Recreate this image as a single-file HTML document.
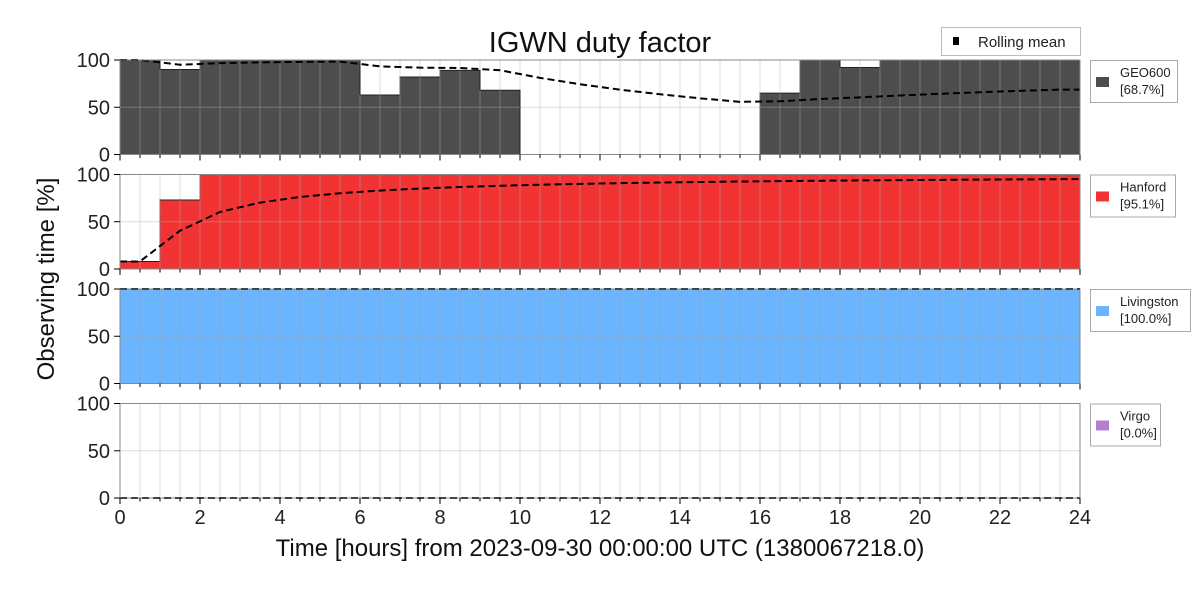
<!DOCTYPE html>
<html><head><meta charset="utf-8"><style>
body{margin:0;background:#fff}
svg{display:block;font-family:"Liberation Sans",sans-serif}
</style></head><body>
<svg id="s" width="1200" height="600" xmlns="http://www.w3.org/2000/svg"></svg>
<script>
const s=document.getElementById('s');let h='';
const X=t=>120+t*40;
const panels=[
 {top:60,col:'#4d4d4d',grid:'#8a8a8a',vals:[100,90,100,100,100,100,63,82,89,68,0,0,0,0,0,0,65,100,92,100,100,100,100,100],name:'GEO600',pct:'[68.7%]',lw:87},
 {top:174.5,col:'#f23333',grid:'#b88',vals:[8,73].concat(Array(22).fill(100)),name:'Hanford',pct:'[95.1%]',lw:85},
 {top:289,col:'#6bb5ff',grid:'#8ab',vals:Array(24).fill(100),name:'Livingston',pct:'[100.0%]',lw:100},
 {top:403.5,col:'#b57fd0',grid:'#ddd',vals:Array(24).fill(0),name:'Virgo',pct:'[0.0%]',lw:70}];
const H=94.5;
panels.forEach(p=>{
 const Y=v=>p.top+H-v/100*H;
 // light grid on white
 for(let i=1;i<48;i++)h+=`<line x1="${X(i/2)}" y1="${p.top}" x2="${X(i/2)}" y2="${p.top+H}" stroke="#ddd" stroke-width="1"/>`;
 h+=`<line x1="120" y1="${Y(50)}" x2="1080" y2="${Y(50)}" stroke="#ddd"/>`;
 // bars
 let path=`M120 ${p.top+H}`;
 p.vals.forEach((v,i)=>{path+=` L${X(i)} ${Y(v)} L${X(i+1)} ${Y(v)}`;});
 path+=` L1080 ${p.top+H} Z`;
 h+=`<path d="${path}" fill="${p.col}" stroke="#222" stroke-width="1"/>`;
 // grid over bars
 h+=`<g stroke="${p.grid}" stroke-width="1" opacity="0.7">`;
 p.vals.forEach((v,i)=>{if(v>0)for(const t of [i,i+0.5])if(t>0)h+=`<line x1="${X(t)}" y1="${Y(v)}" x2="${X(t)}" y2="${p.top+H}"/>`;
  if(v>50)h+=`<line x1="${X(i)}" y1="${Y(50)}" x2="${X(i+1)}" y2="${Y(50)}"/>`;});
 h+=`</g>`;
 // rolling mean
 let sum=0,pts=[[120,Y(p.vals[0])]];
 p.vals.forEach((v,i)=>{sum+=v;pts.push([X(i+0.5),Y(sum/(i+1))]);});
 pts.push([1080,Y(sum/24)]);
 h+=`<polyline points="${pts.map(q=>q.join(',')).join(' ')}" fill="none" stroke="#000" stroke-width="2" stroke-dasharray="7,4"/>`;
 // frame
 h+=`<rect x="120" y="${p.top}" width="960" height="${H}" fill="none" stroke="#888" stroke-width="1"/>`;
 // ticks
 for(let i=0;i<=48;i++){const l=i%4==0?6:3.5;h+=`<line x1="${X(i/2)}" y1="${p.top+H}" x2="${X(i/2)}" y2="${p.top+H+l}" stroke="#000"/>`;}
 [0,50,100].forEach(v=>{h+=`<line x1="114" y1="${Y(v)}" x2="120" y2="${Y(v)}" stroke="#000"/><text x="110" y="${Y(v)+7}" font-size="20" text-anchor="end" fill="#222">${v}</text>`;});
 // legend
 h+=`<rect x="1090.5" y="${p.top+0.5}" width="${p.lw}" height="42" fill="#fff" stroke="#aaa"/>`;
 h+=`<rect x="1096" y="${p.top+17}" width="13" height="10" fill="${p.col}"/>`;
 h+=`<text x="1120" y="${p.top+17}" font-size="13" fill="#222">${p.name}</text><text x="1120" y="${p.top+34}" font-size="13" fill="#222">${p.pct}</text>`;
});
for(let t=0;t<=24;t+=2)h+=`<text x="${X(t)}" y="524" font-size="20" text-anchor="middle" fill="#222">${t}</text>`;
h+=`<text x="600" y="52" font-size="29" text-anchor="middle" fill="#111">IGWN duty factor</text>`;
h+=`<text x="600" y="556" font-size="24" text-anchor="middle" fill="#111">Time [hours] from 2023-09-30 00:00:00 UTC (1380067218.0)</text>`;
h+=`<text transform="translate(54,279) rotate(-90)" font-size="24" text-anchor="middle" fill="#111">Observing time [%]</text>`;
h+=`<rect x="941.5" y="27.5" width="139" height="28" fill="#fff" stroke="#bbb"/><rect x="953" y="37" width="6" height="8" fill="#000"/><text x="978" y="47" font-size="15" fill="#222">Rolling mean</text>`;
s.innerHTML=h;
</script>
</body></html>
